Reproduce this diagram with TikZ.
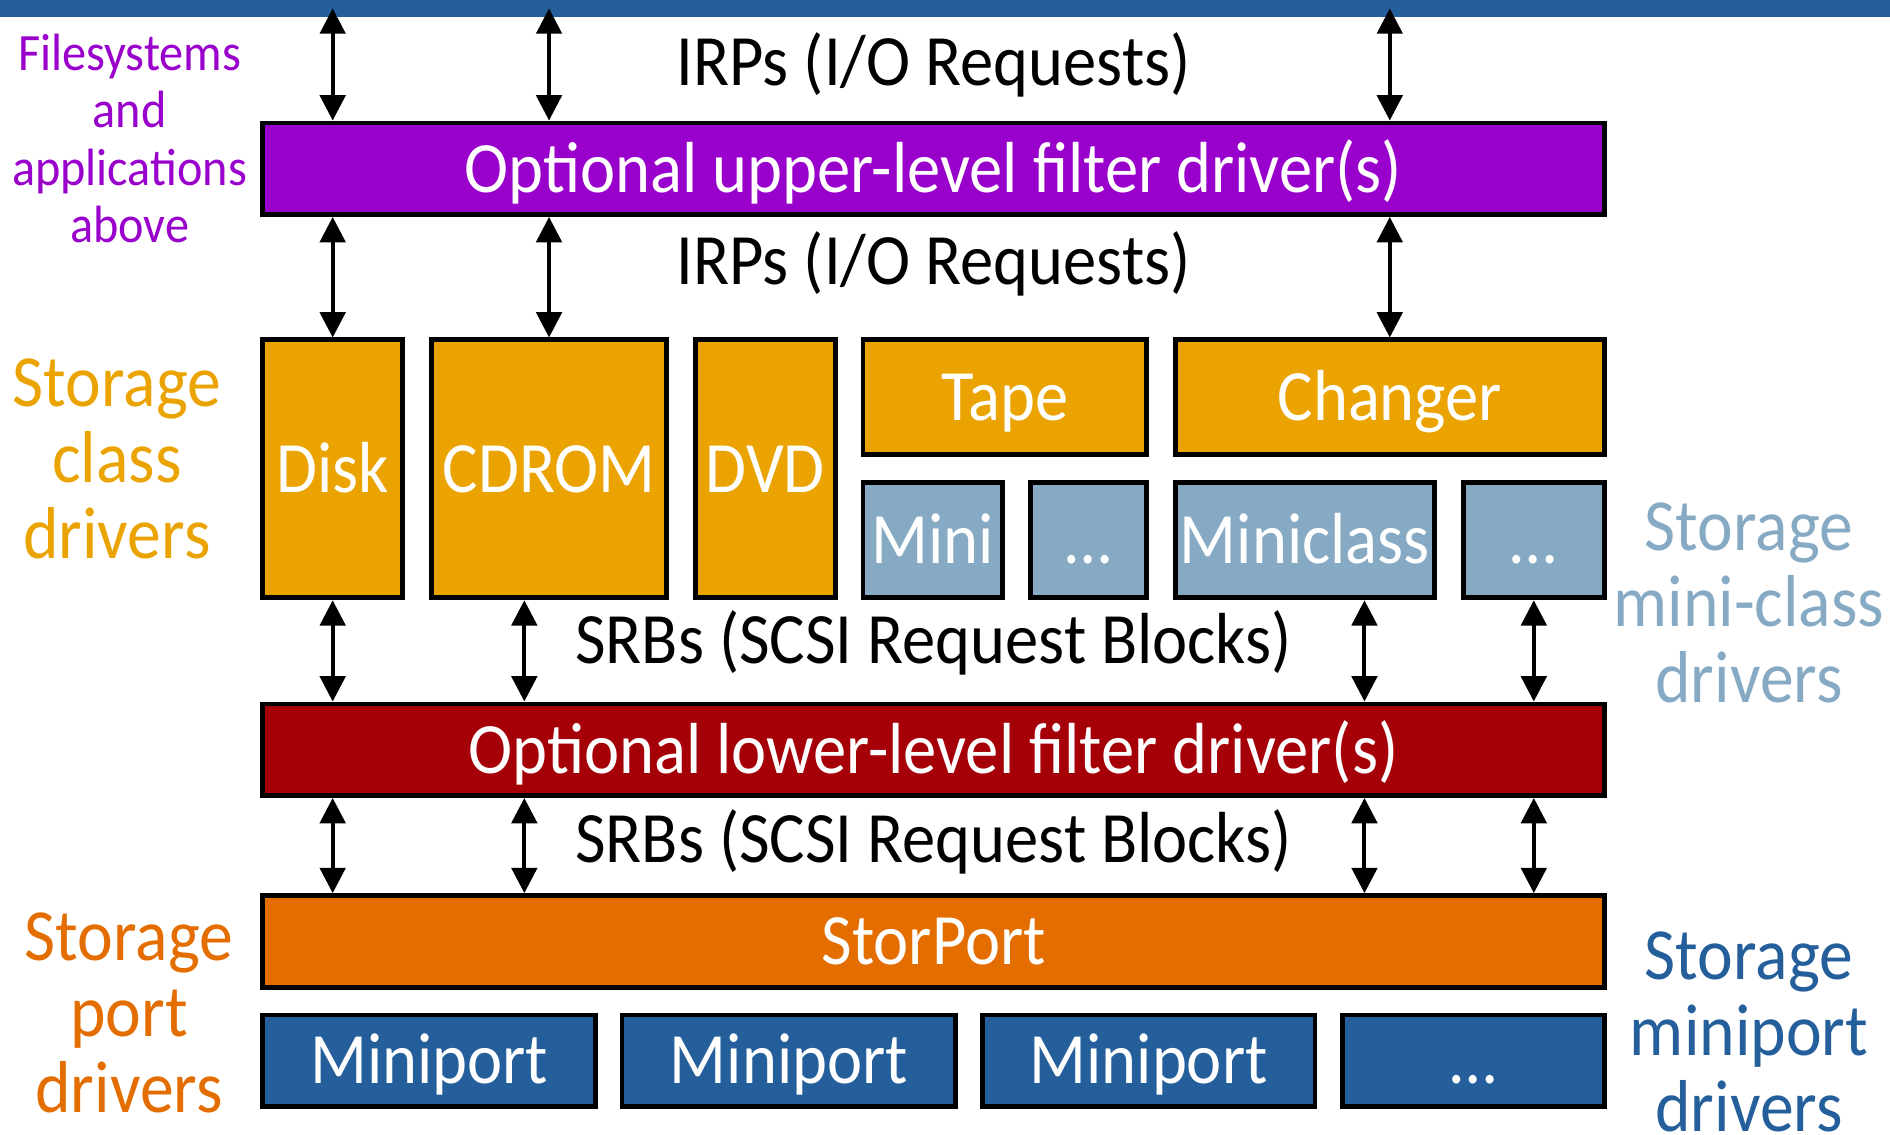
\documentclass[tikz,border=0pt]{standalone}
\usepackage{fontspec}
\setmainfont{Carlito}[FakeStretch=0.92]
\usepackage{tikz}
\usetikzlibrary{arrows.meta}

\definecolor{barblue}{HTML}{245F9B}
\definecolor{upperc}{HTML}{9900CC}
\definecolor{classc}{HTML}{EAA300}
\definecolor{minic}{HTML}{87AAC4}
\definecolor{lowerc}{HTML}{A50008}
\definecolor{portc}{HTML}{E46D00}

\begin{document}
\begin{tikzpicture}[x=1pt,y=-1pt,
  box/.style={rectangle,draw=black,line width=4pt,fill=#1,text=white,inner sep=0pt,
    font=\fontsize{60}{63}\selectfont,text height=38.6pt,text depth=0pt},
  lbl/.style={inner sep=0pt,font=\fontsize{60}{63}\selectfont,text height=38.6pt,text depth=0pt},
  side/.style={align=center,inner sep=0pt,text=#1,font=\fontsize{61}{63}\selectfont},
  io/.style={{Triangle[length=21pt,width=21pt]}-{Triangle[length=21pt,width=21pt]},line width=3.3pt}
]
\useasboundingbox (0,0) rectangle (1568,941);

% top bar and upper filter
\node[box=barblue,draw=none,minimum width=1568pt,minimum height=14pt,text height=0pt] (topbar) at (784,7) {};
\node[box=upperc,minimum width=1113pt,minimum height=76pt] (upper) at (774.5,140) {Optional upper-level filter driver(s)};
\node[lbl] (irpA) at (774.5,52) {IRPs (I/O Requests)};
\node[lbl] (irpB) at (774.5,217) {IRPs (I/O Requests)};

% class drivers
\node[box=classc,minimum width=116pt,minimum height=214pt] (disk)    at (276,389)    {Disk};
\node[box=classc,minimum width=195pt,minimum height=214pt] (cdrom)   at (455.5,389)  {CDROM};
\node[box=classc,minimum width=116pt,minimum height=214pt] (dvd)     at (635,389)    {DVD};
\node[box=classc,minimum width=235pt,minimum height=95pt]  (tape)    at (833.5,329.5) {Tape};
\node[box=classc,minimum width=356pt,minimum height=95pt]  (changer) at (1153,329.5) {Changer};

% miniclass drivers
\node[box=minic,minimum width=116pt,minimum height=96pt] (mini)      at (774,448)    {Mini};
\node[box=minic,minimum width=96pt,minimum height=96pt]  (minidots)  at (903,448)    {\dots};
\node[box=minic,minimum width=215pt,minimum height=96pt] (miniclass) at (1082.5,448) {Miniclass};
\node[box=minic,minimum width=117pt,minimum height=96pt] (classdots) at (1272.5,448) {\dots};

% lower filter, port, miniports
\node[box=lowerc,minimum width=1113pt,minimum height=76pt] (lower) at (774.5,622) {Optional lower-level filter driver(s)};
\node[lbl] (srbA) at (774.5,531) {SRBs (SCSI Request Blocks)};
\node[lbl] (srbB) at (774.5,696) {SRBs (SCSI Request Blocks)};
\node[box=portc,minimum width=1113pt,minimum height=76pt] (storport) at (774.5,781) {StorPort};
\node[box=barblue,minimum width=276pt,minimum height=76pt] (mpA)    at (356,880)    {Miniport};
\node[box=barblue,minimum width=277pt,minimum height=76pt] (mpB)    at (654.5,880)  {Miniport};
\node[box=barblue,minimum width=276pt,minimum height=76pt] (mpC)    at (953,880)    {Miniport};
\node[box=barblue,minimum width=217pt,minimum height=76pt] (mpdots) at (1222.5,880) {\dots};

% side labels
\node[side=upperc,font=\fontsize{43.5}{47.5}\selectfont] (fsapps) at (107.5,115) {Filesystems\\and\\applications\\above};
\node[side=classc]  (classlbl) at (97,381)   {Storage\\class\\drivers};
\node[side=minic]   (minilbl)  at (1451,500) {Storage\\mini-class\\drivers};
\node[side=portc]   (portlbl)  at (107,840)  {Storage\\port\\drivers};
\node[side=barblue] (mplbl)    at (1451,856) {Storage\\miniport\\drivers};

% IRP arrows
\draw[io] (topbar.center -| disk) -- (upper.north -| disk);
\draw[io] (topbar.center -| cdrom) -- (upper.north -| cdrom);
\draw[io] (topbar.center -| changer) -- (upper.north -| changer);
\draw[io] (upper.south -| disk) -- (disk.north);
\draw[io] (upper.south -| cdrom) -- (cdrom.north);
\draw[io] (upper.south -| changer) -- (changer.north);

% SRB arrows
\coordinate (srbx) at (435,0);
\coordinate (srby) at (1132,0);
\draw[io] (disk.south) -- (lower.north -| disk);
\draw[io] (cdrom.south -| srbx) -- (lower.north -| srbx);
\draw[io] (miniclass.south -| srby) -- (lower.north -| srby);
\draw[io] (classdots.south) -- (lower.north -| classdots);
\draw[io] (lower.south -| disk) -- (storport.north -| disk);
\draw[io] (lower.south -| srbx) -- (storport.north -| srbx);
\draw[io] (lower.south -| srby) -- (storport.north -| srby);
\draw[io] (lower.south -| classdots) -- (storport.north -| classdots);
\end{tikzpicture}
\end{document}
